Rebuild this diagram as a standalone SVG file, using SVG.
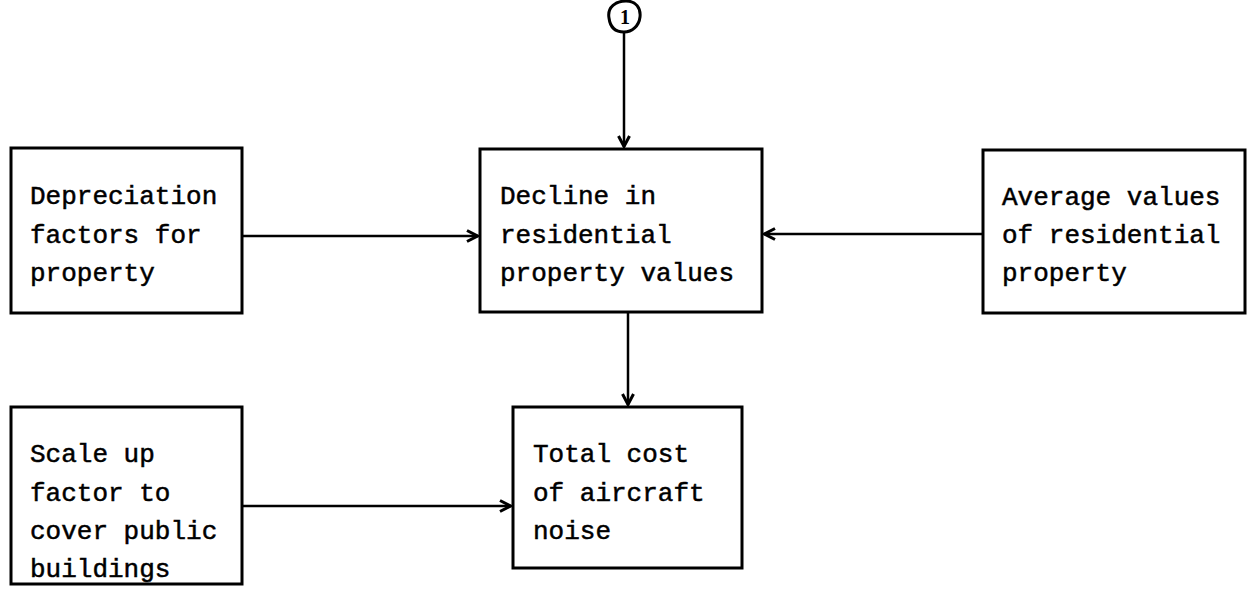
<svg xmlns="http://www.w3.org/2000/svg" width="1253" height="605" viewBox="0 0 1253 605">
<defs>
<style>
.box{fill:none;stroke:#000;stroke-width:3}
.t{font-family:"Liberation Mono","Courier New",monospace;font-size:26px;fill:#000;stroke:#000;stroke-width:0.5}
.c{fill:none;stroke:#000;stroke-width:2.5}
</style>
<marker id="ah" viewBox="0 0 14 14" refX="13" refY="7" markerWidth="14" markerHeight="14" markerUnits="userSpaceOnUse" orient="auto">
<path d="M2,1.5 L12.5,7 L2,12.5" fill="none" stroke="#000" stroke-width="3"/>
</marker>
</defs>
<rect width="1253" height="605" fill="#fff"/>
<g id="n1">
<path d="M609,18 C607,7 616,1 626,1 C636,1 641,8 640,17 C639,26 632,32 624,32 C614,32 610,26 609,18 Z" fill="none" stroke="#000" stroke-width="3"/>
<text x="625" y="24" text-anchor="middle" style="font-family:'Liberation Serif',serif;font-size:20px;font-weight:bold">1</text>
</g>
<g id="depreciation">
<rect class="box" x="11" y="148" width="231" height="165"/>
<text class="t"><tspan x="30" y="204">Depreciation</tspan><tspan x="30" y="243">factors for</tspan><tspan x="30" y="281">property</tspan></text>
</g>
<g id="decline">
<rect class="box" x="480" y="149" width="282" height="163"/>
<text class="t"><tspan x="500" y="204">Decline in</tspan><tspan x="500" y="243">residential</tspan><tspan x="500" y="281">property values</tspan></text>
</g>
<g id="average">
<rect class="box" x="983" y="150" width="262" height="163"/>
<text class="t"><tspan x="1002" y="205">Average values</tspan><tspan x="1002" y="243">of residential</tspan><tspan x="1002" y="281">property</tspan></text>
</g>
<g id="scaleup">
<rect class="box" x="11" y="407" width="231" height="177"/>
<text class="t"><tspan x="30" y="462">Scale up</tspan><tspan x="30" y="501">factor to</tspan><tspan x="30" y="539">cover public</tspan><tspan x="30" y="577">buildings</tspan></text>
</g>
<g id="total">
<rect class="box" x="513" y="407" width="229" height="161"/>
<text class="t"><tspan x="533" y="462">Total cost</tspan><tspan x="533" y="501">of aircraft</tspan><tspan x="533" y="539">noise</tspan></text>
</g>
<g id="connectors">
<line class="c" x1="624" y1="33" x2="624" y2="147" marker-end="url(#ah)"/>
<line class="c" x1="242" y1="236" x2="478" y2="236" marker-end="url(#ah)"/>
<line class="c" x1="983" y1="234" x2="764" y2="234" marker-end="url(#ah)"/>
<line class="c" x1="628" y1="312" x2="628" y2="405" marker-end="url(#ah)"/>
<line class="c" x1="242" y1="506" x2="511" y2="506" marker-end="url(#ah)"/>
</g>
</svg>
